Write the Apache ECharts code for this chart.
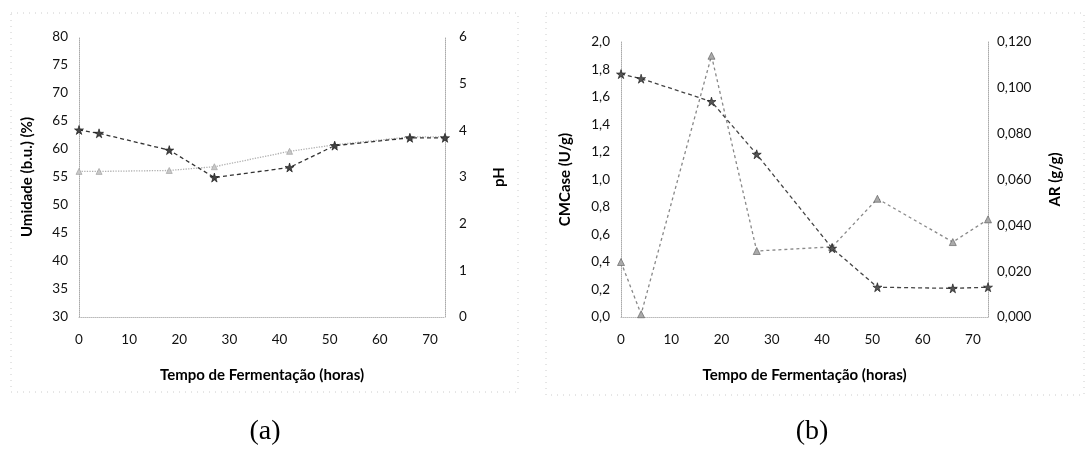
<!DOCTYPE html>
<html>
<head>
<meta charset="utf-8">
<script src="https://cdn.jsdelivr.net/npm/echarts@6/dist/echarts.min.js"></script>
<style>html,body{margin:0;padding:0;background:#fff}#c{width:1090px;height:450px}</style>
</head>
<body>
<div id="c"></div>
<script>
// ---- data ----
const tempo = [0, 4, 18, 27, 42, 51, 66, 73];
const umidade = [63.4, 62.8, 59.8, 54.9, 56.7, 60.6, 62.0, 62.0];
const ph = [3.12, 3.12, 3.14, 3.22, 3.55, 3.69, 3.86, 3.86];
const cmcase = [0.40, 0.02, 1.90, 0.48, 0.51, 0.86, 0.545, 0.71];
const ar = [0.106, 0.104, 0.094, 0.071, 0.030, 0.013, 0.0125, 0.013];
const xTitle = 'Tempo de Fermentação (horas)';
const captions = ['(a)', '(b)'];

const pairs = (xs, ys) => xs.map((x, i) => [x, ys[i]]);
const FONT = 'Lato';
const lab = {fontFamily: FONT, fontSize: 13.5, color: '#111'};
const nameSt = {fontFamily: FONT, fontSize: 15, fontWeight: 'bold', color: '#000'};
const axLine = {show: true, lineStyle: {color: '#aaa', type: 'dotted', width: 1}};
const STAR = 'path://M50 0 L61 35 L98 35 L68 57 L79 91 L50 70 L21 91 L32 57 L2 35 L39 35 Z';

function xAx(gi) {
  return {
    type: 'value', gridIndex: gi, min: 0, max: 73, interval: 10,
    axisLine: {show: true, onZero: false, lineStyle: {color: '#bbb', type: 'dotted'}},
    axisTick: {show: false}, splitLine: {show: false},
    axisLabel: Object.assign({margin: 16, showMaxLabel: false}, lab),
    name: xTitle, nameLocation: 'middle', nameGap: 51, nameTextStyle: nameSt
  };
}
function yAx(gi, pos, min, max, interval, name, gap, fmt, margin) {
  return {
    type: 'value', gridIndex: gi, position: pos, min, max, interval,
    axisLine: axLine, axisTick: {show: false}, splitLine: {show: false},
    axisLabel: Object.assign({margin: margin, formatter: fmt}, lab),
    name, nameLocation: 'middle', nameGap: gap, nameRotate: 90, nameTextStyle: nameSt
  };
}
const comma = d => v => v.toFixed(d).replace('.', ',');

const chart = echarts.init(document.getElementById('c'));
chart.setOption({
  animation: false,
  backgroundColor: '#fff',
  grid: [
    {left: 79, top: 37, width: 366, height: 280},
    {left: 621, top: 42, width: 367, height: 275}
  ],
  xAxis: [xAx(0), xAx(1)],
  yAxis: [
    yAx(0, 'left', 30, 80, 5, 'Umidade (b.u.) (%)', 44, v => v, 11),
    yAx(0, 'right', 0, 6, 1, 'pH', 47, v => v, 14),
    yAx(1, 'left', 0, 2, 0.2, 'CMCase (U/g)', 48, comma(1), 11),
    yAx(1, 'right', 0, 0.12, 0.02, 'AR (g/g)', 60, comma(3), 9)
  ],
  series: [
    {type: 'line', name: 'pH', xAxisIndex: 0, yAxisIndex: 1, data: pairs(tempo, ph),
      symbol: 'triangle', symbolSize: 6,
      lineStyle: {color: '#b0b0b0', type: 'dotted', width: 1.3},
      itemStyle: {color: '#c8c8c8', borderColor: '#999', borderWidth: 0.6}},
    {type: 'line', name: 'Umidade', xAxisIndex: 0, yAxisIndex: 0, data: pairs(tempo, umidade),
      symbol: STAR, symbolSize: 9,
      lineStyle: {color: '#333', type: [4, 3], width: 1.3},
      itemStyle: {color: '#444', borderColor: '#111', borderWidth: 0.6}},
    {type: 'line', name: 'CMCase', xAxisIndex: 1, yAxisIndex: 2, data: pairs(tempo, cmcase),
      symbol: 'triangle', symbolSize: 7,
      lineStyle: {color: '#888', type: [3, 3], width: 1.3},
      itemStyle: {color: '#aaa', borderColor: '#555', borderWidth: 0.6}},
    {type: 'line', name: 'AR', xAxisIndex: 1, yAxisIndex: 3, data: pairs(tempo, ar),
      symbol: STAR, symbolSize: 9,
      lineStyle: {color: '#444', type: [4, 3], width: 1.3},
      itemStyle: {color: '#555', borderColor: '#111', borderWidth: 0.6}}
  ],
  graphic: [
    {type: 'rect', shape: {x: 11, y: 13, width: 507, height: 379}, silent: true,
      style: {fill: 'none', stroke: '#ccc', lineWidth: 1, lineDash: [1, 5]}},
    {type: 'rect', shape: {x: 546, y: 13, width: 538, height: 382}, silent: true,
      style: {fill: 'none', stroke: '#ccc', lineWidth: 1, lineDash: [1, 5]}},
    {type: 'text', x: 265, y: 432, silent: true,
      style: {text: captions[0], font: '28px "Liberation Serif"', fill: '#000', textAlign: 'center', textVerticalAlign: 'middle'}},
    {type: 'text', x: 812, y: 432, silent: true,
      style: {text: captions[1], font: '28px "Liberation Serif"', fill: '#000', textAlign: 'center', textVerticalAlign: 'middle'}}
  ]
});
</script>
</body>
</html>
